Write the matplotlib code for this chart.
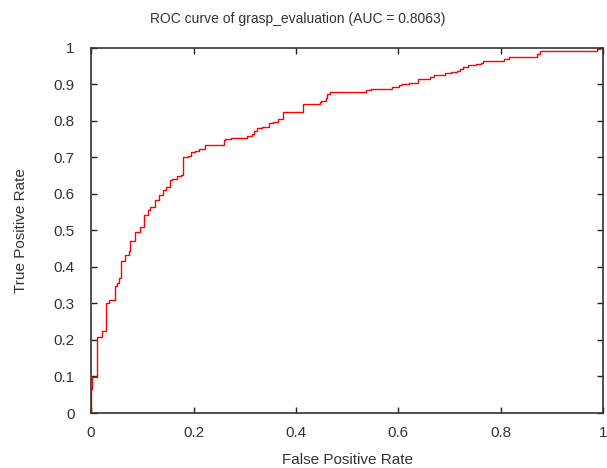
import matplotlib
matplotlib.use('Agg')
import matplotlib.pyplot as plt

# ROC curve corner points (fpr, tpr)
fpr = [0.0, 0.0, 0.002, 0.012, 0.022, 0.030, 0.036, 0.046, 0.050, 0.054,
       0.059, 0.067, 0.074, 0.077, 0.086, 0.095, 0.104, 0.111, 0.115, 0.124,
       0.132, 0.141, 0.146, 0.154, 0.158, 0.167, 0.176, 0.180, 0.189, 0.196,
       0.203, 0.211, 0.223, 0.259, 0.262, 0.273, 0.304, 0.314, 0.318, 0.324,
       0.333, 0.348, 0.355, 0.365, 0.375, 0.383, 0.413, 0.446, 0.449, 0.458,
       0.461, 0.467, 0.495, 0.537, 0.547, 0.587, 0.602, 0.606, 0.620, 0.638,
       0.661, 0.669, 0.690, 0.703, 0.715, 0.720, 0.727, 0.736, 0.751, 0.761,
       0.766, 0.774, 0.806, 0.815, 0.871, 0.877, 0.987, 0.994, 1.0]
tpr = [0.0, 0.065, 0.098, 0.207, 0.225, 0.302, 0.309, 0.347, 0.356, 0.370,
       0.416, 0.433, 0.443, 0.470, 0.496, 0.508, 0.541, 0.555, 0.563, 0.584,
       0.597, 0.610, 0.620, 0.637, 0.640, 0.649, 0.652, 0.701, 0.703, 0.714,
       0.718, 0.722, 0.733, 0.747, 0.750, 0.752, 0.757, 0.763, 0.773, 0.779,
       0.782, 0.793, 0.796, 0.806, 0.823, 0.825, 0.847, 0.851, 0.855, 0.862,
       0.873, 0.878, 0.880, 0.884, 0.888, 0.892, 0.898, 0.901, 0.904, 0.914,
       0.919, 0.925, 0.931, 0.934, 0.937, 0.942, 0.946, 0.952, 0.955, 0.958,
       0.963, 0.965, 0.970, 0.975, 0.984, 0.991, 0.996, 1.0, 1.0]

xticks = [0, 0.2, 0.4, 0.6, 0.8, 1]
yticks = [0, 0.1, 0.2, 0.3, 0.4, 0.5, 0.6, 0.7, 0.8, 0.9, 1]

plt.rcParams['font.family'] = ['Liberation Sans', 'DejaVu Sans']
fig = plt.figure(figsize=(6.07, 4.68), dpi=100)
ax = fig.add_axes([0.150, 0.1175, 0.844, 0.7805])

ax.plot(fpr, tpr, drawstyle='steps-post', color='red', lw=1.0)

ax.set_xlim(0, 1)
ax.set_ylim(0, 1)
ax.set_xticks(xticks)
ax.set_yticks(yticks)
ax.set_xticklabels(['%g' % t for t in xticks])
ax.set_yticklabels(['%g' % t for t in yticks])
ax.tick_params(direction='in', top=True, right=True, length=4, width=1,
               labelsize=11, labelcolor='#333333', color='#222222')
ax.tick_params(axis='y', pad=12)
ax.tick_params(axis='x', pad=9)
for s in ax.spines.values():
    s.set_color('#333333')
    s.set_linewidth(1.2)

ax.set_xlabel('False Positive Rate', fontsize=11, color='#333333', labelpad=10)
ax.set_ylabel('True Positive Rate', fontsize=11, color='#333333', labelpad=18)
fig.text(0.49, 0.959, 'ROC curve of grasp_evaluation (AUC = 0.8063)',
         fontsize=10, color='#333333', ha='center', va='center')

fig.savefig('out.png', dpi=100)
